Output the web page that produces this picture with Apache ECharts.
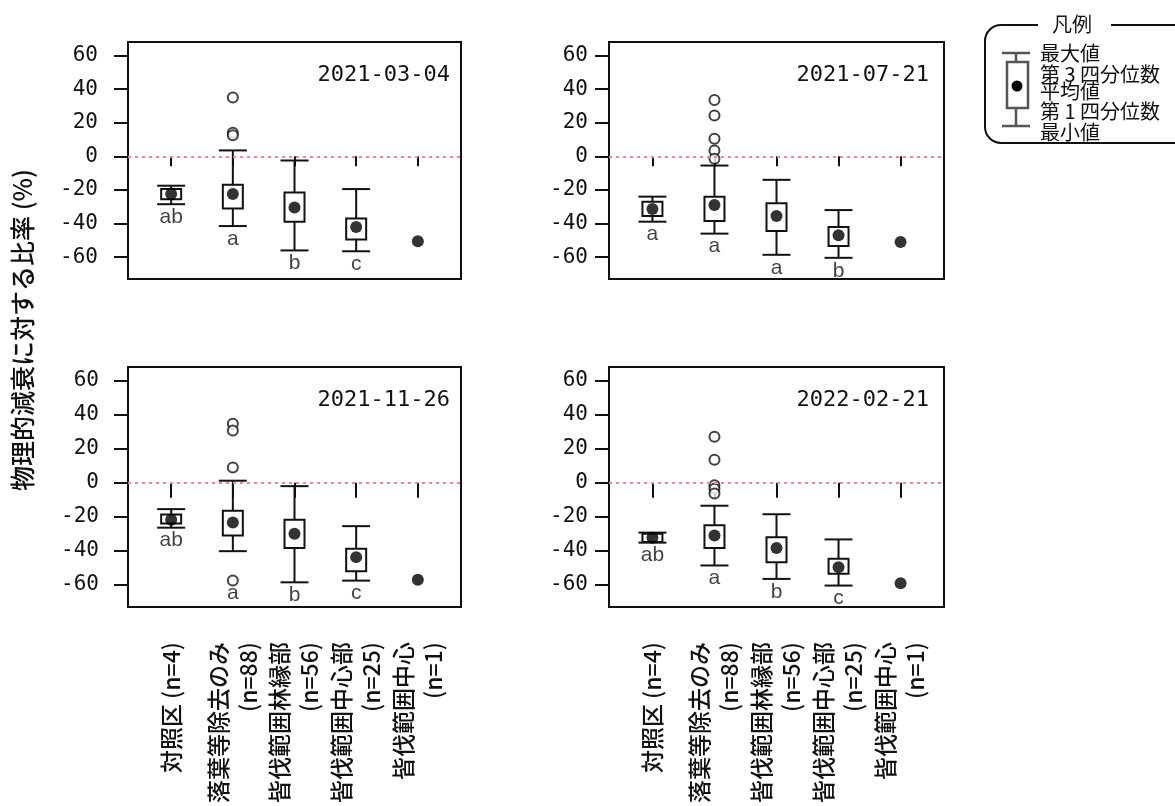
<!DOCTYPE html>
<html>
<head>
<meta charset="utf-8">
<script src="https://cdn.jsdelivr.net/npm/echarts@6/dist/echarts.min.js"></script>
<style>
  body { margin: 0; background: #fff; }
  #main { width: 1175px; height: 806px; }
</style>
</head>
<body>
<div id="main"></div>
<script>
// カテゴリ・目盛
const categories = ['対照区 (n=4)', '落葉等除去のみ\n(n=88)', '皆伐範囲林縁部\n(n=56)', '皆伐範囲中心部\n(n=25)', '皆伐範囲中心\n(n=1)']
const dates = ['2021-03-04', '2021-07-21', '2021-11-26', '2022-02-21']
const yTicks = [-60, -40, -20, 0, 20, 40, 60]
const xTicks = [1, 2, 3, 4, 5]

// 各パネル（日付順）, グループ1〜4 の箱ひげ
const whiskerMax = [
  [-17.5, 3.5, -2.5, -19.5],
  [-24, -5.5, -14, -32],
  [-15.5, 1.2, -2, -25.5],
  [-29.3, -13.5, -18.5, -33.3]
]
const q3 = [
  [-19.5, -17, -21.5, -37],
  [-27, -24, -28, -42],
  [-18.7, -16.5, -21.7, -38.8],
  [-30, -25, -32, -44.7]
]
const q1 = [
  [-25.5, -31, -39, -49.5],
  [-35.5, -38.5, -44.4, -53.3],
  [-24, -31, -38.4, -52],
  [-34.8, -38.4, -46.7, -53.5]
]
const whiskerMin = [
  [-28.5, -41.5, -56, -56.5],
  [-38.9, -46, -58.6, -60.4],
  [-26.4, -40.2, -58.5, -57.5],
  [-35.2, -48.6, -56.5, -60.4]
]
// 平均値（グループ1〜5）
const means = [
  [-22.5, -22.5, -30.5, -42, -50.5],
  [-31.4, -29, -35.5, -47, -51],
  [-21.7, -23.4, -30, -43.7, -57],
  [-32.3, -31, -38.4, -49.6, -59]
]
// 外れ値（すべて 落葉等除去のみ）
const outliers = [
  [35, 14, 12.5],
  [33.5, 24.3, 10.5, 3.5, -1.4],
  [34.6, 30.7, 9, -57.5],
  [27, 13.5, -1.5, -3.5, -6.3]
]
const letters = [
  ['ab', 'a', 'b', 'c', ''],
  ['a', 'a', 'a', 'b', ''],
  ['ab', 'a', 'b', 'c', ''],
  ['ab', 'a', 'b', 'c', '']
]

const panels = [
  { left: 128, top: 42, width: 333, height: 237, bottom: false, margin: 30 },
  { left: 609, top: 42, width: 335, height: 237, bottom: false, margin: 21 },
  { left: 128, top: 367, width: 333, height: 240, bottom: true, margin: 29 },
  { left: 609, top: 367, width: 335, height: 240, bottom: true, margin: 21 }
]

const ink = '#111'
const numFont = '"DejaVu Sans Mono", monospace'
const jpFont = '"Noto Sans CJK JP", sans-serif'

function renderBox(params, api) {
  const x = api.value(0)
  const top = api.coord([x, api.value(1)])
  const hi = api.coord([x, api.value(2)])
  const lo = api.coord([x, api.value(3)])
  const bot = api.coord([x, api.value(4)])
  const cx = top[0]
  const bw = 10
  const cw = 14
  const st = { stroke: ink, lineWidth: 2 }
  return {
    type: 'group',
    children: [
      { type: 'line', shape: { x1: cx, y1: top[1], x2: cx, y2: hi[1] }, style: st },
      { type: 'line', shape: { x1: cx, y1: lo[1], x2: cx, y2: bot[1] }, style: st },
      { type: 'line', shape: { x1: cx - cw, y1: top[1], x2: cx + cw, y2: top[1] }, style: st },
      { type: 'line', shape: { x1: cx - cw, y1: bot[1], x2: cx + cw, y2: bot[1] }, style: st },
      {
        type: 'rect',
        shape: { x: cx - bw, y: hi[1], width: bw * 2, height: lo[1] - hi[1] },
        style: { fill: '#fff', stroke: ink, lineWidth: 2 }
      }
    ]
  }
}

const grid = []
const xAxis = []
const yAxis = []
const series = []
const graphic = []

panels.forEach((p, i) => {
  grid.push({
    left: p.left, top: p.top, width: p.width, height: p.height,
    show: true, borderColor: ink, borderWidth: 2, backgroundColor: '#fff'
  })
  xAxis.push({
    type: 'value', gridIndex: i, min: 0.3, max: 5.7,
    offset: p.bottom ? 0 : 6,
    axisLine: { show: false },
    splitLine: { show: false },
    axisTick: { show: true, customValues: xTicks, length: p.bottom ? 15 : 10, lineStyle: { color: ink, width: 2 } },
    axisLabel: {
      show: p.bottom,
      customValues: xTicks,
      formatter: v => categories[Math.round(v) - 1],
      rotate: 90,
      margin: 35,
      fontSize: 23,
      lineHeight: 30,
      fontWeight: 500,
      fontFamily: jpFont,
      color: ink
    }
  })
  yAxis.push({
    type: 'value', gridIndex: i, min: -73, max: 68,
    axisLine: { show: false },
    splitLine: { show: false },
    axisTick: { show: true, customValues: yTicks, length: 14, lineStyle: { color: ink, width: 2 } },
    axisLabel: { customValues: yTicks, margin: p.margin, fontSize: 21, fontFamily: numFont, color: ink }
  })

  const boxData = whiskerMax[i].map((v, g) => [g + 1, v, q3[i][g], q1[i][g], whiskerMin[i][g]])
  const meanData = means[i].map((v, g) => [g + 1, v])
  const outData = outliers[i].map(v => [2, v])
  const letterData = []
  letters[i].forEach((t, g) => {
    if (!t) return
    let low = whiskerMin[i][g]
    if (g === 1) low = Math.min(low, ...outliers[i])
    letterData.push({ name: t, value: [g + 1, low] })
  })

  series.push({
    type: 'custom', xAxisIndex: i, yAxisIndex: i,
    renderItem: renderBox,
    encode: { x: 0, y: [1, 2, 3, 4] },
    data: boxData, z: 2
  })
  series.push({
    type: 'scatter', xAxisIndex: i, yAxisIndex: i,
    symbol: 'circle', symbolSize: 12,
    itemStyle: { color: '#000' },
    data: meanData, z: 4,
    markLine: {
      silent: true, symbol: ['none', 'none'], label: { show: false },
      lineStyle: { color: '#e3889f', type: [3, 4], width: 2 },
      data: [{ yAxis: 0 }]
    }
  })
  series.push({
    type: 'scatter', xAxisIndex: i, yAxisIndex: i,
    symbol: 'emptyCircle', symbolSize: 10,
    itemStyle: { color: ink, borderColor: ink, borderWidth: 2 },
    data: outData, z: 4
  })
  series.push({
    type: 'scatter', xAxisIndex: i, yAxisIndex: i,
    symbolSize: 1, itemStyle: { color: 'rgba(0,0,0,0)' },
    label: {
      show: true, position: 'bottom', distance: 2, formatter: '{b}',
      fontSize: 21, fontFamily: '"Liberation Sans", Arial, sans-serif', color: ink
    },
    data: letterData, z: 5
  })

  // 日付
  graphic.push({
    type: 'text', x: p.left + p.width - (i % 2 ? 15 : 11), y: p.top + 33,
    style: { text: dates[i], font: '22px ' + numFont, fill: ink, align: 'right', verticalAlign: 'middle' }
  })
})

// 縦軸タイトル
graphic.push({
  type: 'text', x: 22, y: 330, rotation: Math.PI / 2,
  style: { text: '物理的減衰に対する比率 (%)', font: '500 25px ' + jpFont, fill: ink, align: 'center', verticalAlign: 'middle' }
})

// 凡例
const lg = '#555'
graphic.push(
  { type: 'rect', shape: { x: 985, y: 25, width: 205, height: 118, r: 16 }, style: { fill: 'none', stroke: ink, lineWidth: 2 } },
  { type: 'rect', shape: { x: 1038, y: 15, width: 73, height: 20 }, style: { fill: '#fff' } },
  { type: 'text', x: 1072, y: 24, style: { text: '凡例', font: '20px ' + jpFont, fill: ink, align: 'center', verticalAlign: 'middle' } },
  { type: 'line', shape: { x1: 1002, y1: 53, x2: 1030, y2: 53 }, style: { stroke: lg, lineWidth: 2.5 } },
  { type: 'line', shape: { x1: 1016, y1: 53, x2: 1016, y2: 62 }, style: { stroke: lg, lineWidth: 2.5 } },
  { type: 'rect', shape: { x: 1007, y: 62, width: 21, height: 46 }, style: { fill: '#fff', stroke: lg, lineWidth: 2.5 } },
  { type: 'line', shape: { x1: 1016, y1: 108, x2: 1016, y2: 126 }, style: { stroke: lg, lineWidth: 2.5 } },
  { type: 'line', shape: { x1: 1002, y1: 126, x2: 1030, y2: 126 }, style: { stroke: lg, lineWidth: 2.5 } },
  { type: 'circle', shape: { cx: 1017, cy: 86, r: 5.5 }, style: { fill: '#000' } }
)
const legendText = [['最大値', 53], ['第 3 四分位数', 74], ['平均値', 91], ['第 1 四分位数', 111], ['最小値', 132]]
legendText.forEach(([t, y]) => {
  graphic.push({ type: 'text', x: 1040, y: y, style: { text: t, font: '20px ' + jpFont, fill: ink, align: 'left', verticalAlign: 'middle' } })
})

const chart = echarts.init(document.getElementById('main'))
chart.setOption({
  animation: false,
  backgroundColor: '#fff',
  grid, xAxis, yAxis, series, graphic
})
</script>
</body>
</html>
